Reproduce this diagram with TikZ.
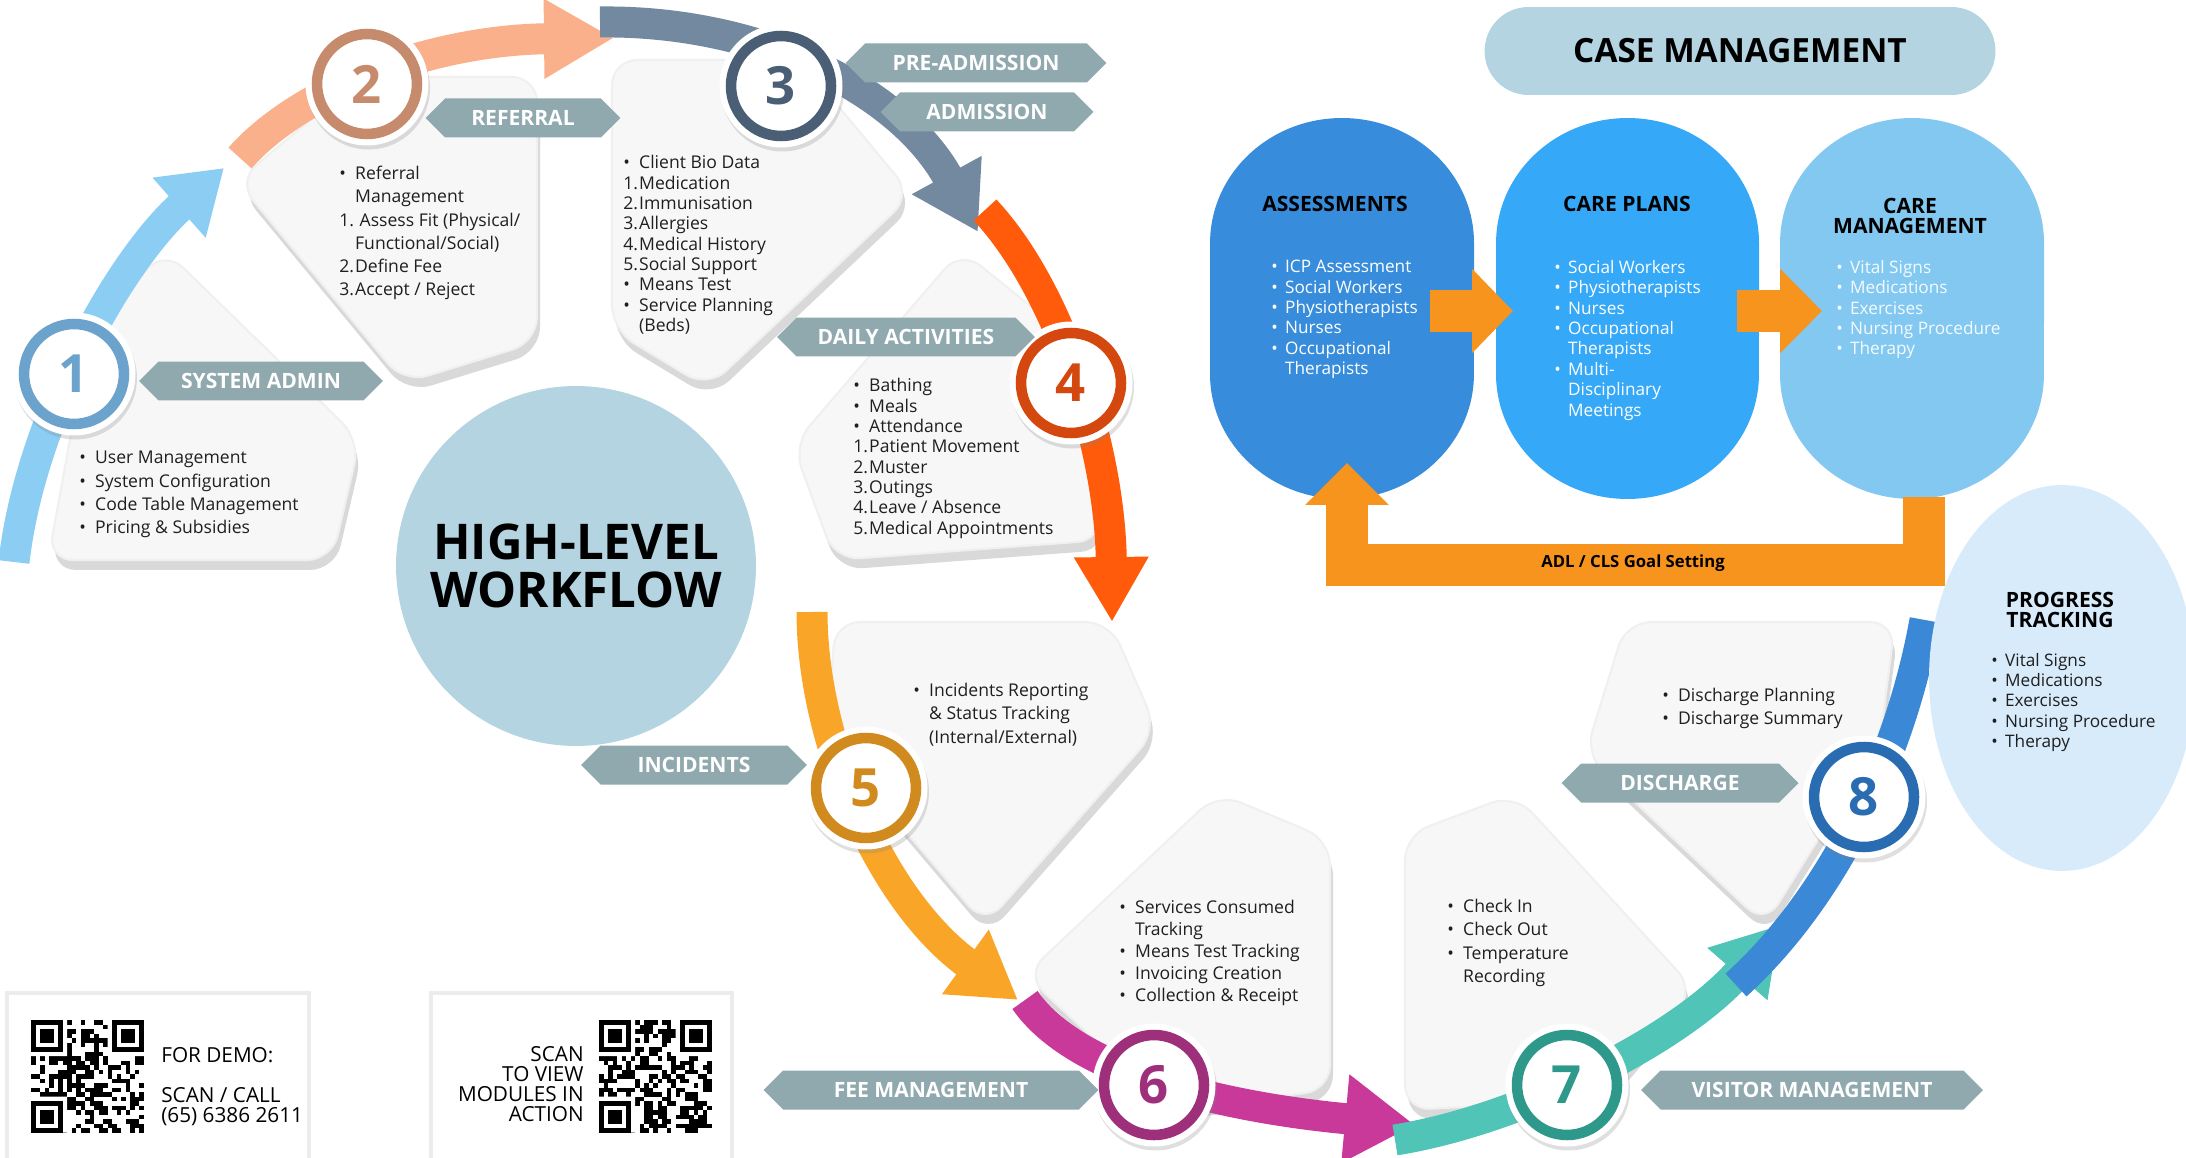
\documentclass[tikz,border=0pt]{standalone}
\usepackage{fontspec}
\setmainfont{Open Sans}
\usepackage{tikz}
\usetikzlibrary{arrows.meta,shapes.symbols,shadows}

\definecolor{tagfill}{HTML}{8FA9AE}
\definecolor{pale}{HTML}{B3D4E0}
\definecolor{ringA}{HTML}{6CA3CC}\definecolor{arrowA}{HTML}{8CCDF4}
\definecolor{ringB}{HTML}{C68A6C}\definecolor{arrowB}{HTML}{F9B08B}
\definecolor{ringC}{HTML}{4A5E76}\definecolor{arrowC}{HTML}{7389A0}
\definecolor{ringD}{HTML}{D4470E}\definecolor{arrowD}{HTML}{FF5B0B}
\definecolor{ringE}{HTML}{D08A1E}\definecolor{arrowE}{HTML}{F9A628}
\definecolor{ringF}{HTML}{9E2F7B}\definecolor{arrowF}{HTML}{C9399A}
\definecolor{ringG}{HTML}{2E998A}\definecolor{arrowG}{HTML}{50C4B6}
\definecolor{ringH}{HTML}{2A6CB1}\definecolor{arrowH}{HTML}{3A88D6}
\definecolor{assess}{HTML}{378DDB}
\definecolor{plans}{HTML}{35A8F8}
\definecolor{cmgmt}{HTML}{82C8F1}
\definecolor{progress}{HTML}{D8EBFB}
\definecolor{goal}{HTML}{F7941D}

\newcommand{\bul}{\makebox[0.9em][l]{\textbullet}}
\newcommand{\inda}{\hspace*{0.9em}}
\newcommand{\numb}[1]{\makebox[0.9em][l]{#1}}
\newcommand{\obul}{\makebox[0.8em][l]{\textbullet}}
\newcommand{\oinda}{\hspace*{0.8em}}

% fake qr code, top left corner at #1,#2
\newcommand{\qrpatch}[2]{%
  \begin{scope}[shift={(#1,#2)}]
    \foreach \qi in {0,...,24}{
      \foreach \qj in {0,...,24}{
        \pgfmathrandominteger{\qrbit}{0}{1}
        \ifnum\qrbit=1 \fill (\qi*4.5,\qj*4.5) rectangle ++(4.5,4.5);\fi
      }
    }
    \fill[white] (0,0) rectangle (36,36) (76.5,0) rectangle (112.5,36) (0,76.5) rectangle (36,112.5);
    \foreach \qx/\qy in {0/0,81/0,0/81}{
      \fill (\qx,\qy) rectangle ++(31.5,31.5);
      \fill[white] (\qx+4.5,\qy+4.5) rectangle ++(22.5,22.5);
      \fill (\qx+9,\qy+9) rectangle ++(13.5,13.5);
    }
  \end{scope}}

\tikzstyle{card}  = [fill=gray!6,draw=gray!12,line width=1.2pt,rounded corners=0.5cm,drop shadow={shadow xshift=0.06cm,shadow yshift=-0.2cm,opacity=0.3}]
\tikzstyle{flow}  = [line width=0.62cm,line cap=butt]
\tikzstyle{disc}  = [circle,fill=white,minimum size=2.46cm,drop shadow={shadow xshift=0.03cm,shadow yshift=-0.08cm,opacity=0.25}]
\tikzstyle{ring}  = [circle,draw,fill=white,line width=6pt,minimum size=2.0cm,font=\bfseries\fontsize{30}{30}\selectfont]
\tikzstyle{tag}   = [signal,signal to=east and west,fill=tagfill,text=white,minimum height=0.78cm,inner xsep=0pt,font=\bfseries\fontsize{12}{12}\selectfont]
\tikzstyle{body}  = [anchor=north west,align=left,inner sep=0pt,text=black!88,font=\fontsize{10}{13.2}\selectfont]
\tikzstyle{tight} = [font=\fontsize{10}{11.6}\selectfont]
\tikzstyle{otext} = [anchor=north west,align=left,inner sep=0pt,text=white,font=\fontsize{9.8}{11.6}\selectfont]
\tikzstyle{otitle}= [align=center,inner sep=0pt,font=\bfseries\fontsize{12}{11.4}\selectfont]
\tikzstyle{goalarrow} = [draw=goal,line width=0.84cm,line cap=butt,line join=miter]

\begin{document}
\begin{tikzpicture}[x=0.02cm,y=-0.02cm]
\useasboundingbox (0,0) rectangle (2186,1158);
\pgfmathsetseed{17}

% case management
\node[fill=pale,rounded corners=0.88cm,minimum width=10.22cm,minimum height=1.76cm,font=\bfseries\fontsize{19}{19}\selectfont] (casetitle) at (1740,51) {CASE MANAGEMENT};

\fill[assess] (1474,243) arc[start angle=0,end angle=180,x radius=2.64cm,y radius=2.5cm] -- (1210,374) arc[start angle=180,end angle=360,x radius=2.64cm,y radius=2.5cm] -- cycle;
\fill[plans] (1759,243) arc[start angle=0,end angle=180,x radius=2.63cm,y radius=2.5cm] -- (1496,374) arc[start angle=180,end angle=360,x radius=2.63cm,y radius=2.5cm] -- cycle;
\fill[cmgmt] (2044,243) arc[start angle=0,end angle=180,x radius=2.64cm,y radius=2.5cm] -- (1780,374) arc[start angle=180,end angle=360,x radius=2.64cm,y radius=2.5cm] -- cycle;

\node[otitle] (assesstitle) at (1335,204) {ASSESSMENTS};
\node[otitle] (planstitle) at (1627,204) {CARE PLANS};
\node[otitle] (cmgmttitle) at (1910,216) {CARE\\MANAGEMENT};

\node[otext] (assesslist) at (1271,260) {\obul ICP Assessment\\ \obul Social Workers\\ \obul Physiotherapists\\ \obul Nurses\\ \obul Occupational\\ \oinda Therapists};
\node[otext] (planslist) at (1554,260) {\obul Social Workers\\ \obul Physiotherapists\\ \obul Nurses\\ \obul Occupational\\ \oinda Therapists\\ \obul Multi-\\ \oinda Disciplinary\\ \oinda Meetings};
\node[otext,text=white!92!cmgmt] (cmgmtlist) at (1836,260) {\obul Vital Signs\\ \obul Medications\\ \obul Exercises\\ \obul Nursing Procedure\\ \obul Therapy};

\coordinate (assessR) at (1430,311);
\coordinate (plansL) at (1513,311);
\coordinate (plansR) at (1737,311);
\coordinate (cmgmtL) at (1822,311);
\coordinate (cmgmtB) at (1924,497);
\coordinate (assessB) at (1347,463);
\draw[goalarrow,-{Triangle[length=0.82cm,width=1.64cm]}] (assessR) -- (plansL);
\draw[goalarrow,-{Triangle[length=0.84cm,width=1.64cm]}] (plansR) -- (cmgmtL);
\draw[goalarrow,-{Triangle[length=0.84cm,width=1.62cm]}] (cmgmtB) -- (1924,565) -- (1347,565) -- (assessB);
\node[font=\bfseries\fontsize{9.5}{9.5}\selectfont] (goaltext) at (1633,563) {ADL / CLS Goal Setting};

% high level workflow
\node[circle,fill=pale,minimum size=7.2cm,align=center,font=\bfseries\fontsize{28}{27}\selectfont] (hlw) at (576,566) {HIGH-LEVEL\\WORKFLOW};

% cards
\draw[card] (165,250) -- (360,440) -- (332,560) -- (48,560) -- (90,330) -- cycle;
\draw[card] (237,181) -- (362,77) -- (537,77) -- (537,342) -- (404,383) -- cycle;
\draw[card] (612,60) -- (800,60) -- (912,195) -- (708,388) -- (612,330) -- cycle;
\draw[card] (961,250) -- (1060,330) -- (1103,540) -- (835,560) -- (793,445) -- cycle;
\draw[card] (835,622) -- (1110,622) -- (1157,730) -- (985,925) -- (828,740) -- cycle;
\draw[card] (1218,793) -- (1330,840) -- (1330,1090) -- (1170,1110) -- (1025,975) -- cycle;
\draw[card] (1515,794) -- (1695,990) -- (1600,1100) -- (1405,1110) -- (1405,835) -- cycle;
\draw[card] (1626,622) -- (1895,622) -- (1880,740) -- (1765,925) -- (1585,755) -- cycle;

% flow arrows
\coordinate (a1s) at (14,562);   \coordinate (a1e) at (224,168);
\coordinate (a2s) at (240,158);  \coordinate (a2e) at (614,38);
\coordinate (a3s) at (600,22);   \coordinate (a3e) at (978,232);
\coordinate (a4s) at (985,210);  \coordinate (a4e) at (1112,622);
\coordinate (a5s) at (812,612);  \coordinate (a5e) at (1018,1000);
\coordinate (a6s) at (1025,1000);\coordinate (a6e) at (1415,1125);
\coordinate (a7s) at (1395,1140);\coordinate (a7e) at (1780,925);
\coordinate (a8s) at (1736,985); \coordinate (a8e) at (1925,620);
\draw[flow,draw=arrowA,-{Triangle[length=1.2cm,width=1.52cm]}] (a1s) .. controls (30,420) and (120,260) .. (a1e);
\draw[flow,draw=arrowB,-{Triangle[length=1.4cm,width=1.5cm]}] (a2s) .. controls (300,90) and (430,40) .. (a2e);
\draw[flow,draw=arrowC,-{Triangle[length=1.3cm,width=1.5cm]}] (a3s) .. controls (760,20) and (900,90) .. (a3e);
\draw[flow,draw=arrowD,-{Triangle[length=1.3cm,width=1.4cm]}] (a4s) .. controls (1060,290) and (1110,450) .. (a4e);
\draw[flow,draw=arrowE,-{Triangle[length=1.3cm,width=1.5cm]}] (a5s) .. controls (812,740) and (880,900) .. (a5e);
\draw[flow,draw=arrowF,-{Triangle[length=1.4cm,width=1.68cm]}] (a6s) .. controls (1080,1080) and (1250,1110) .. (a6e);
\draw[flow,draw=arrowG,-{Triangle[length=1.3cm,width=1.5cm]}] (a7s) .. controls (1520,1120) and (1680,1040) .. (a7e);
\draw[flow,draw=arrowH] (a8s) .. controls (1830,900) and (1900,760) .. (a8e);

% progress tracking
\fill[progress] (2062,678) ellipse[x radius=2.66cm,y radius=3.86cm];
\node[otitle] (progtitle) at (2060,610) {PROGRESS\\TRACKING};
\node[otext,text=black!88,font=\fontsize{9.8}{11.5}\selectfont] (proglist) at (1991,653) {\obul Vital Signs\\ \obul Medications\\ \obul Exercises\\ \obul Nursing Procedure\\ \obul Therapy};

% numbered steps
\node[disc] (d1) at (74,374) {};    \node[ring,draw=ringA,text=ringA] (n1) at (d1) {1};
\node[disc] (d2) at (367,84) {};    \node[ring,draw=ringB,text=ringB] (n2) at (d2) {2};
\node[disc] (d3) at (781,86) {};    \node[ring,draw=ringC,text=ringC] (n3) at (d3) {3};
\node[disc] (d4) at (1071,383) {};  \node[ring,draw=ringD,text=ringD] (n4) at (d4) {4};
\node[disc] (d5) at (866,788) {};   \node[ring,draw=ringE,text=ringE] (n5) at (d5) {5};
\node[disc] (d6) at (1154,1085) {}; \node[ring,draw=ringF,text=ringF] (n6) at (d6) {6};
\node[disc] (d7) at (1567,1085) {}; \node[ring,draw=ringG,text=ringG] (n7) at (d7) {7};
\node[disc] (d8) at (1864,797) {};  \node[ring,draw=ringH,text=ringH] (n8) at (d8) {8};

% tags
\node[tag,minimum width=4.88cm] (sysadmin) at (261,381) {SYSTEM ADMIN};
\node[tag,minimum width=3.9cm] (referral) at (523,118) {REFERRAL};
\node[tag,minimum width=5.22cm] (preadm) at (976,63) {PRE-ADMISSION};
\node[tag,minimum width=4.26cm] (admission) at (987,112) {ADMISSION};
\node[tag,minimum width=5.16cm] (daily) at (906,337) {DAILY ACTIVITIES};
\node[tag,minimum width=4.52cm] (incidents) at (694,765) {INCIDENTS};
\node[tag,minimum width=6.7cm] (fee) at (931,1090) {FEE MANAGEMENT};
\node[tag,minimum width=6.84cm] (visitor) at (1812,1090) {VISITOR MANAGEMENT};
\node[tag,minimum width=4.74cm] (discharge) at (1680,783) {DISCHARGE};

% card texts
\node[body] (t1) at (79,451) {\bul User Management\\ \bul System Configuration\\ \bul Code Table Management\\ \bul Pricing \& Subsidies};
\node[body] (t2) at (339,166) {\bul Referral\\ \inda Management\\ \numb{1.} Assess Fit (Physical/\\ \inda Functional/Social)\\ \numb{2.}Define Fee\\ \numb{3.}Accept / Reject};
\node[body,tight] (t3) at (623,155) {\bul Client Bio Data\\ \numb{1.}Medication\\ \numb{2.}Immunisation\\ \numb{3.}Allergies\\ \numb{4.}Medical History\\ \numb{5.}Social Support\\ \bul Means Test\\ \bul Service Planning\\ \inda (Beds)};
\node[body,tight] (t4) at (853,378) {\bul Bathing\\ \bul Meals\\ \bul Attendance\\ \numb{1.}Patient Movement\\ \numb{2.}Muster\\ \numb{3.}Outings\\ \numb{4.}Leave / Absence\\ \numb{5.}Medical Appointments};
\node[body] (t5) at (913,683) {\bul Incidents Reporting\\ \inda \& Status Tracking\\ \inda (Internal/External)};
\node[body,font=\fontsize{10}{12.5}\selectfont] (t6) at (1119,900) {\bul Services Consumed\\ \inda Tracking\\ \bul Means Test Tracking\\ \bul Invoicing Creation\\ \bul Collection \& Receipt};
\node[body] (t7) at (1447,899) {\bul Check In\\ \bul Check Out\\ \bul Temperature\\ \inda Recording};
\node[body] (t8) at (1662,688) {\bul Discharge Planning\\ \bul Discharge Summary};

% qr boxes
\draw[draw=gray!15,line width=2pt,fill=white] (7,993) rectangle (309,1170);
\draw[draw=gray!15,line width=2pt,fill=white] (431,993) rectangle (732,1170);
\qrpatch{31}{1020}
\qrpatch{599}{1020}
\node[anchor=west,inner sep=0pt,font=\fontsize{11.8}{11.4}\selectfont] (demo) at (161,1055) {FOR DEMO:};
\node[anchor=north west,inner sep=0pt,align=left,font=\fontsize{11.8}{11.4}\selectfont] (call) at (161,1087) {SCAN / CALL\\(65) 6386 2611};
\node[anchor=north east,inner sep=0pt,align=right,font=\fontsize{11.8}{11.4}\selectfont] (scan) at (584,1046) {SCAN\\TO VIEW\\MODULES IN\\ACTION};

\end{tikzpicture}
\end{document}
